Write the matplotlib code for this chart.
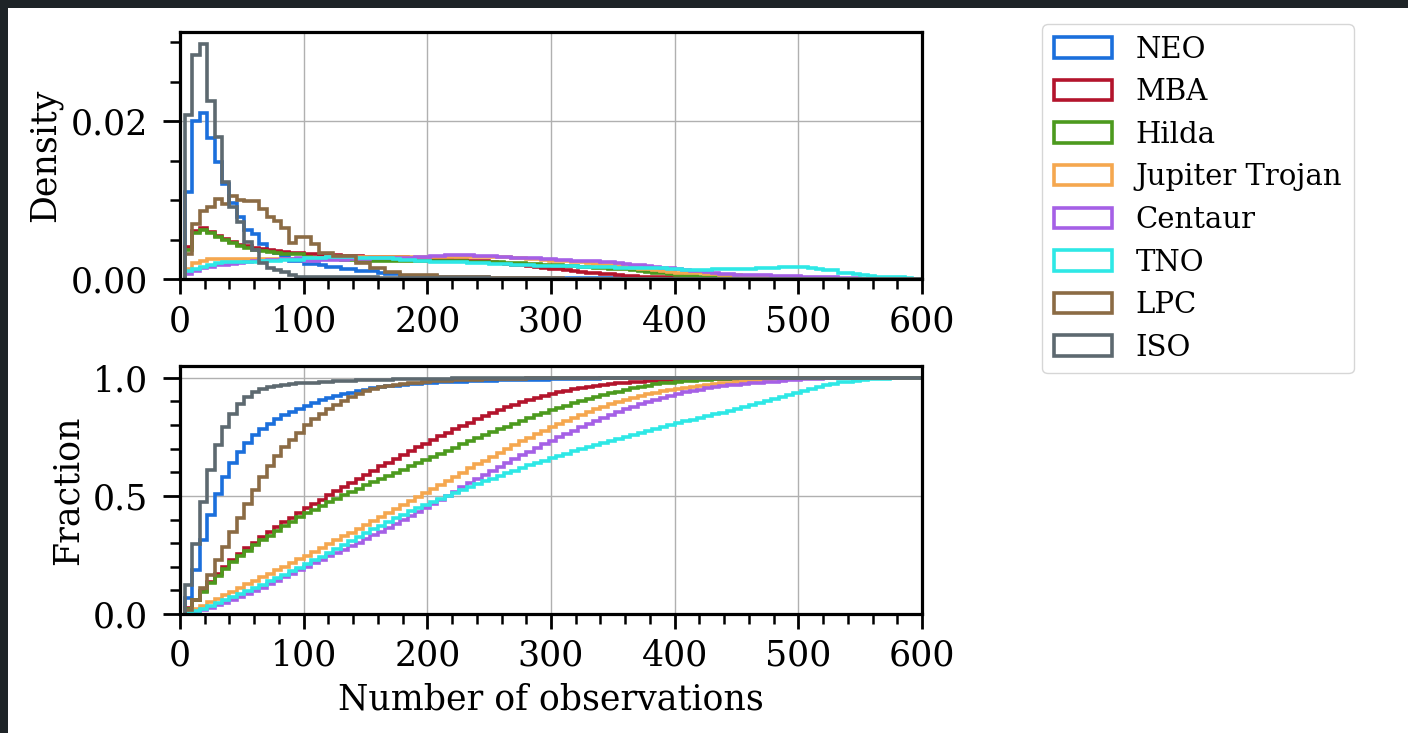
import numpy as np
import matplotlib
matplotlib.use("Agg")
import matplotlib.pyplot as plt
from matplotlib.patches import Patch, Rectangle
from matplotlib.ticker import AutoMinorLocator, MultipleLocator

plt.rcParams['font.family'] = ['DejaVu Serif']
plt.rcParams['font.size'] = 25

# histogram bins: 6 observations wide, starting at 4
binw = 6
edges = np.arange(4, 605, binw)

# bin heights, in units of 1e-4 (normalised to a density below)
neo = [108, 197, 207, 176, 146, 118, 95, 77, 61, 56, 44, 35, 32, 29, 23, 22,
       19, 19, 18, 15, 15, 12, 12, 10, 10, 10, 7, 6, 6, 4, 4, 4, 4, 4,
       2, 2, 2, 2, 2, 2, 2] + [1] * 20 + [0] * 39
mba = [40, 60, 63, 59, 54, 50, 46,
       43, 41, 39, 37, 36, 35, 34, 33, 32,
       31, 31, 30, 30, 30, 29, 29, 29, 28, 28, 28, 27, 27, 27, 26, 26, 26,
       25, 25, 25, 24, 24, 23, 23, 22, 21, 20, 19, 18, 17, 16, 15, 14,
       13, 12, 11, 10, 9, 8, 7, 6, 6, 5, 4, 4, 3, 3, 3, 2, 2,
       2, 2, 2, 1, 1, 1, 1, 1, 1, 1,
       1, 1, 1, 1, 1] + [0] * 19
hilda = [37, 58, 62, 58, 53, 49, 45,
         42, 39, 37, 35, 34, 33, 32, 31, 31,
         28, 27, 26, 25, 25, 24, 24, 23, 23, 22, 22, 22, 22, 22, 22, 22, 22,
         22, 22, 22, 22, 22, 21, 21, 21, 21, 21,
         20, 20, 20, 19, 19, 18,
         17, 17, 16, 16, 15, 15, 14, 14, 13, 12, 12, 11, 10, 9, 8, 7, 6,
         5, 4, 4, 3, 3, 3, 2, 2, 2, 1, 1, 1, 1, 1, 0] + [0] * 19
trojan = [12, 20, 23] + [25] * 13 + \
         [26, 26, 26, 27, 27, 27, 27, 27, 27, 27, 28, 28, 28, 28, 28, 28, 28,
          28, 28, 28, 28, 28, 28, 28, 27, 27, 27, 27, 26, 26, 25, 25, 24,
          23, 22, 22, 21, 21, 20, 19, 18, 17, 16, 15, 14, 13, 12, 11, 10, 9,
          8, 8, 7, 7, 6, 6, 5, 5, 5, 4, 4, 3, 3, 3, 2, 2, 2,
          1, 1, 1, 1, 1] + [0] * 12
centaur = [6, 10, 14, 16, 18, 19,
           20, 21, 22, 23, 24, 25, 25, 26, 26, 27,
           24, 24, 25, 25, 25, 25, 26, 26,
           26, 27, 27, 27, 28, 28, 28, 29, 29,
           30, 30, 31, 31, 31, 31, 30, 30,
           30, 29, 29, 28, 28, 27, 27, 26, 26,
           25, 25, 24, 24, 23, 23, 22, 22,
           21, 20, 19, 18, 17, 16, 15, 14,
           13, 12, 11, 10, 9, 8, 7, 6, 5,
           5, 5, 5, 5, 4, 4, 4, 4,
           3, 3, 2, 2, 2, 1, 1, 1] + [0] * 9
tno = [10, 13, 15, 18, 20, 21,
       21, 21, 22, 22, 23, 23, 23, 24, 24, 24,
       26, 27, 27, 28, 28, 28, 28, 27, 27, 27, 26, 26, 25, 24, 24, 23, 23,
       22, 22, 21, 21, 21, 20, 20, 20, 19, 19, 19, 18, 18, 18, 17, 17, 17,
       16, 16, 16, 15, 15, 15, 15, 15, 14, 14, 14, 14, 14, 14, 14, 13, 13,
       12, 12, 12, 12, 13, 13, 13, 13, 13, 13, 14, 14, 14, 15, 15, 15,
       15, 14, 13, 12, 11,
       8, 7, 6, 5,
       4, 3, 3, 2, 2, 1,
       0, 0]
lpc = [31, 69, 86, 91, 101, 95, 105, 100, 98, 98, 88, 78, 73, 65, 46, 53,
       53, 44, 33, 33, 29, 29, 29, 20, 20, 14, 14, 9, 9, 5, 5, 5, 5, 5,
       2, 2, 2, 2, 2, 2, 2] + [1] * 10 + [0] * 49
iso = [210, 287, 302, 229, 182, 125, 93, 73, 48, 37, 20, 14, 12, 9, 5,
       3, 3, 3, 3, 3, 3, 2, 2, 2, 2, 2, 1, 1, 1, 1, 1,
       1, 1, 1, 1, 1, 1, 1, 1, 1, 1] + [0] * 59

names = ['NEO', 'MBA', 'Hilda', 'Jupiter Trojan', 'Centaur', 'TNO', 'LPC', 'ISO']
series = [neo, mba, hilda, trojan, centaur, tno, lpc, iso]
colors = ['#1b6fdc', '#b3142c', '#4c9a1e', '#f5a74f', '#a560e6', '#2ee8e6',
          '#8b6b44', '#5d6970']

fig = plt.figure(figsize=(14.08, 7.33), dpi=100, facecolor='#1e2427')
fig.patches.append(Rectangle((8 / 1408, 0), 1 - 8 / 1408, 1 - 8 / 733,
                             transform=fig.transFigure, facecolor='white',
                             edgecolor='none', zorder=-10))

ax1 = fig.add_axes([180 / 1408, 1 - 279 / 733, 742 / 1408, 247 / 733])
ax2 = fig.add_axes([180 / 1408, 1 - 614 / 733, 742 / 1408, 248 / 733])

for vals, c in zip(series, colors):
    v = np.array(vals, dtype=float)
    dens = v / (v.sum() * binw)
    ax1.stairs(dens, edges, color=c, lw=2.6)
    ax2.stairs(np.cumsum(dens) * binw, edges, color=c, lw=2.6)

ax1.set_xlim(0, 600)
ax1.set_ylim(0, None)
ax1.yaxis.set_major_locator(MultipleLocator(0.02))
ax1.yaxis.set_minor_locator(AutoMinorLocator(4))
ax1.set_ylabel('Density', labelpad=6)

ax2.set_xlim(0, 600)
ax2.set_ylim(0, 1.05)
ax2.yaxis.set_major_locator(MultipleLocator(0.5))
ax2.yaxis.set_minor_locator(AutoMinorLocator(5))
ax2.set_ylabel('Fraction', labelpad=6)
ax2.set_xlabel('Number of observations', labelpad=7)

for ax in (ax1, ax2):
    ax.xaxis.set_major_locator(MultipleLocator(100))
    ax.xaxis.set_minor_locator(AutoMinorLocator(5))
    ax.grid(True, color='#b0b0b0', lw=1.0)
    ax.set_axisbelow(True)
    ax.tick_params(which='major', length=11, width=2.0, direction='out',
                   pad=7)
    ax.tick_params(axis='y', which='major', length=12, pad=11)
    ax.tick_params(which='minor', length=7, width=1.8, direction='out')
    for sp in ax.spines.values():
        sp.set_linewidth(2.3)

handles = [Patch(facecolor='none', edgecolor=c, lw=2.6) for c in colors]
fig.legend(handles, names, loc='upper left', fontsize=21,
           bbox_to_anchor=(1042 / 1408, 1 - 24 / 733), borderaxespad=0,
           frameon=True, edgecolor='#cccccc', labelspacing=0.5,
           borderpad=0.4)

fig.savefig('out.png', dpi=100, facecolor=fig.get_facecolor())
